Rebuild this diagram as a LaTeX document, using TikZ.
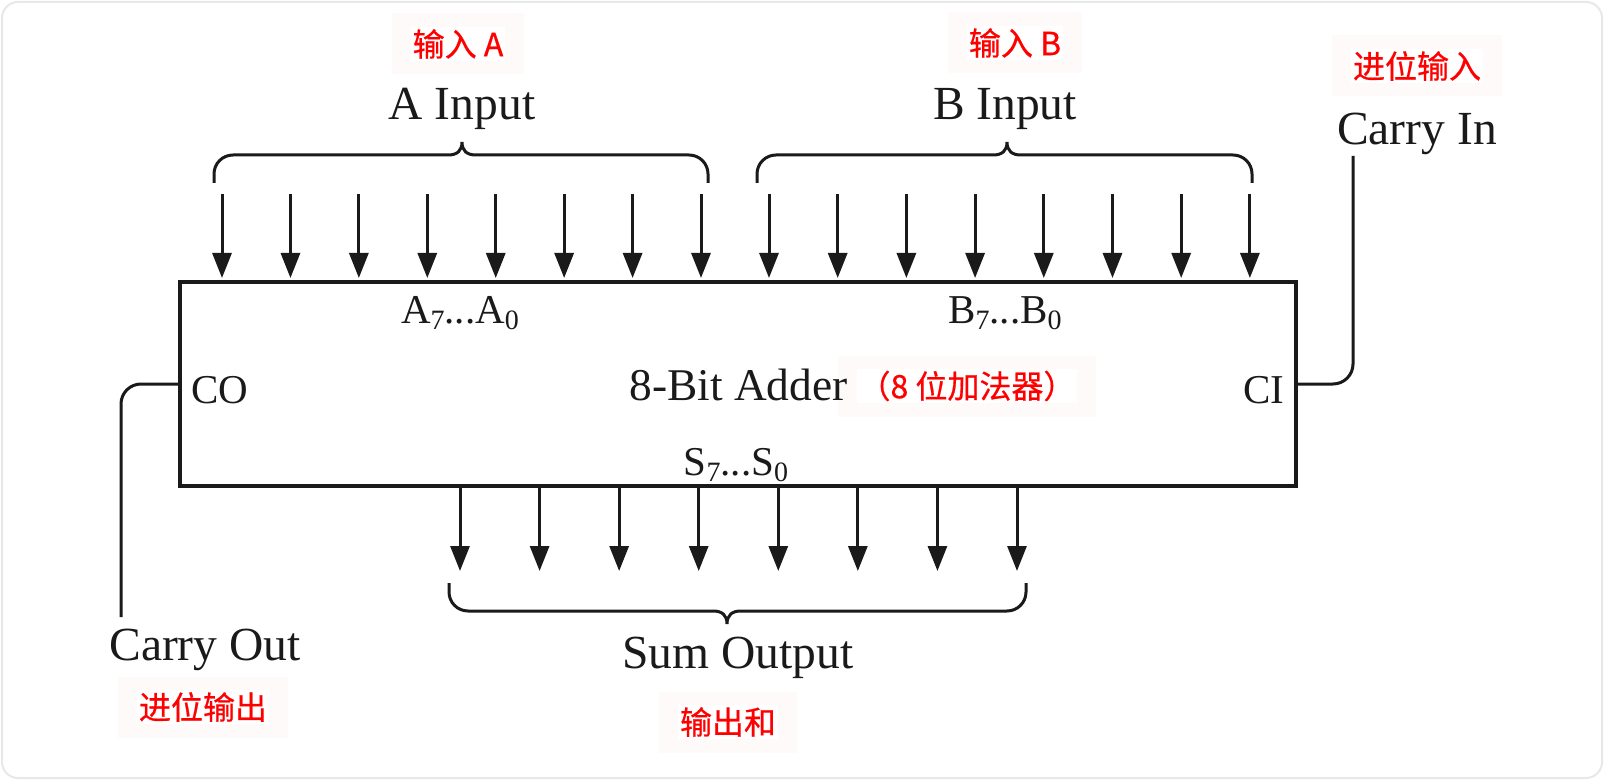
\documentclass[tikz,border=0pt]{standalone}
\usepackage{fontspec}
\setmainfont{Liberation Serif}
\newfontfamily\cjk[FakeBold=0.6]{Noto Sans CJK SC}
\usetikzlibrary{arrows.meta}
\definecolor{ink}{HTML}{1A1A1A}
\definecolor{pinkbg}{HTML}{FFFAFA}
\definecolor{redtxt}{HTML}{FF0000}
\definecolor{framegray}{HTML}{E8E8E8}
\newcommand{\lsub}[1]{\raisebox{-0.35ex}{\fontsize{14pt}{14pt}\selectfont #1}}
% #1 left x, #2 right x, #3 y of horizontal line, #4 = 1 (legs down, tip up) or -1 (legs up, tip down), #5 tip x
\newcommand{\hbrace}[5]{%
  \draw[wire] ({#1},{#3+(#4)*28}) -- ({#1},{#3+(#4)*19})
    .. controls ({#1},{#3+(#4)*8.5}) and ({#1+8.5},{#3}) .. ({#1+19},{#3})
    -- ({#5-14},{#3})
    .. controls ({#5-5},{#3}) and ({#5},{#3-(#4)*4}) .. ({#5},{#3-(#4)*13})
    .. controls ({#5},{#3-(#4)*4}) and ({#5+5},{#3}) .. ({#5+14},{#3})
    -- ({#2-19},{#3})
    .. controls ({#2-8.5},{#3}) and ({#2},{#3+(#4)*8.5}) .. ({#2},{#3+(#4)*19})
    -- ({#2},{#3+(#4)*28});}
\setlength{\fboxsep}{1pt}
\begin{document}
\begin{tikzpicture}[x=0.5pt,y=-0.5pt,
  wire/.style={draw=ink, line width=1.5pt},
  arr/.style={wire, -{Triangle[length=12.5pt,width=9.5pt]}},
  biglabel/.style={inner sep=0pt, anchor=base, text=ink, font=\fontsize{23.75pt}{24pt}\selectfont},
  pinlabel/.style={inner sep=0pt, text=ink, font=\fontsize{20.5pt}{21pt}\selectfont},
  cnlabel/.style={fill=pinkbg, inner xsep=9.5pt, inner ysep=0pt, minimum height=30.5pt, text=redtxt, font=\cjk\fontsize{16pt}{16pt}\selectfont},
  adderbox/.style={draw=ink, line width=1.75pt, minimum width=558pt, minimum height=102pt, inner sep=0pt, outer sep=0pt}
]
\useasboundingbox (0,0) rectangle (1604,780);
\fill[white] (0,0) rectangle (1604,780);
\draw[framegray, line width=1pt, rounded corners=8pt] (2,2) rectangle (1602,778);

% main box
\node[adderbox] (box) at (738,384) {};

% red annotation boxes
\node[cnlabel] (cnA) at (458,44) {\colorbox{white}{输入 A}};
\node[cnlabel] (cnB) at (1015,43) {\colorbox{white}{输入 B}};
\node[cnlabel] (cnCI) at (1417,66) {\colorbox{white}{进位输入}};
\node[cnlabel] (cnCO) at (203,707) {\colorbox{white}{进位输出}};
\node[cnlabel] (cnS) at (728,722) {\colorbox{white}{输出和}};
\node[cnlabel] (cnAdd) at (967,386) {\colorbox{white}{（8 位加法器）}};

% labels
\node[biglabel] (lA) at (462,120) {A Input};
\node[biglabel] (lB) at (1005,120) {B Input};
\node[biglabel] (lCI) at (1417,145) {Carry In};
\node[biglabel] (lCO) at (205,660) {Carry Out};
\node[biglabel] (lS) at (738,668) {Sum Output};

\node[pinlabel, anchor=base west] (co) at (191,403) {CO};
\node[pinlabel, anchor=base east] (ci) at (1285,403) {CI};
\node[inner sep=0pt, anchor=base west, text=ink, font=\fontsize{22.7pt}{23pt}\selectfont] (add) at (629,400) {8-Bit Adder};
\node[pinlabel, anchor=base] (aa) at (460,323) {A\lsub{7}...A\lsub{0}};
\node[pinlabel, anchor=base] (bb) at (1005,323) {B\lsub{7}...B\lsub{0}};
\node[pinlabel, anchor=base] (ss) at (736,475) {S\lsub{7}...S\lsub{0}};

% braces
\hbrace{214}{708}{155}{1}{462}
\hbrace{757}{1252}{155}{1}{1007}
\hbrace{449}{1026}{611}{-1}{727}

% input arrows
\foreach \i in {0,...,7} {
  \coordinate (a\i) at ({222+68.43*\i},194);
  \draw[arr, shorten >=2pt] (a\i) -- (a\i |- box.north);
  \coordinate (b\i) at ({769+68.7*\i},194);
  \draw[arr, shorten >=2pt] (b\i) -- (b\i |- box.north);
  \coordinate (s\i) at ({460+79.57*\i},571);
  \draw[arr] (s\i |- box.south) -- (s\i);
}

% carry lines
\coordinate (cin) at (1353,156);
\draw[wire, rounded corners=10pt] (cin) |- (box.east);
\coordinate (cout) at (121,617);
\draw[wire, rounded corners=10pt] (box.west) -| (cout);
\end{tikzpicture}
\end{document}
